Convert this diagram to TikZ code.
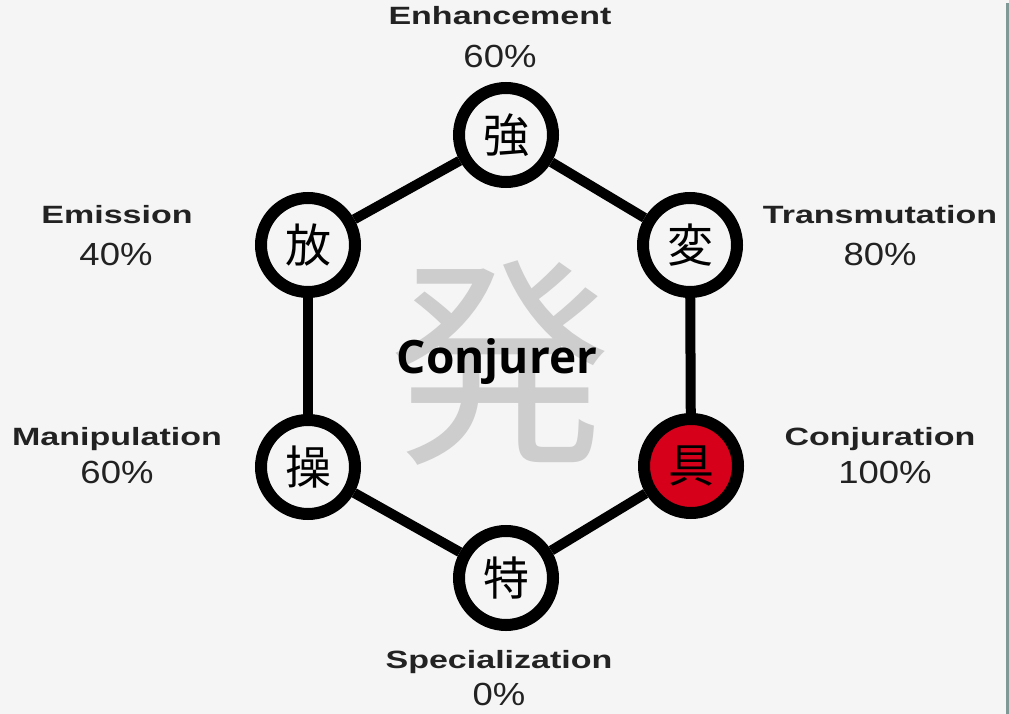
\documentclass[tikz,border=0pt]{standalone}
\usepackage{fontspec}
\setmainfont{Liberation Sans}
\newfontfamily\cjk{Noto Sans CJK JP}
\newfontfamily\conjfont{Open Sans}
\definecolor{bgc}{HTML}{F5F5F5}
\definecolor{redc}{HTML}{D7001A}
\definecolor{ghost}{HTML}{CDCDCD}
\definecolor{edgec}{HTML}{7F9A96}
\definecolor{txt}{HTML}{222222}
\newcommand{\ttl}[1]{\scalebox{1.36}[1]{\fontsize{25}{25}\selectfont\bfseries #1}}
\newcommand{\pct}[1]{\scalebox{1.14}[1]{\fontsize{32}{32}\selectfont #1}}
\begin{document}
\begin{tikzpicture}[x=1pt,y=-1pt,
  ring/.style={circle, draw=black, line width=12pt, fill=bgc, minimum size=94pt, inner sep=0pt, font=\cjk\fontsize{46}{46}\selectfont},
  link/.style={line width=10pt, black},
  lbl/.style={anchor=base, inner sep=0pt, text=txt}]
\useasboundingbox (0,0) rectangle (1009,714);
\fill[bgc] (0,0) rectangle (1009,714);
\coordinate (e1) at (1007.5,3);
\coordinate (e2) at (1007.5,714);
\draw[edgec, line width=3pt] (e1) -- (e2);

\node[anchor=base, inner sep=0pt, text=ghost, font=\cjk\fontsize{222}{222}\selectfont] (ghost) at (500,446) {発};
\node[anchor=base, inner sep=0pt, font=\conjfont\bfseries\fontsize{46}{46}\selectfont] (conj) at (497,373) {Conjurer};

\node[ring] (enh) at (506,135) {強};
\node[ring] (tra) at (690,245) {変};
\node[ring, fill=redc] (cnj) at (691,466) {具};
\node[ring] (spe) at (506,578) {特};
\node[ring] (man) at (308,467) {操};
\node[ring] (emi) at (308,245) {放};

\draw[link] (enh) -- (tra);
\draw[link] (tra) -- (cnj);
\draw[link] (cnj) -- (spe);
\draw[link] (spe) -- (man);
\draw[link] (man) -- (emi);
\draw[link] (emi) -- (enh);

\node[lbl] (t1) at (500,25) {\ttl{Enhancement}};
\node[lbl] (p1) at (500,68) {\pct{60\%}};
\node[lbl] (t2) at (117,223) {\ttl{Emission}};
\node[lbl] (p2) at (116,265) {\pct{40\%}};
\node[lbl] (t3) at (880,223) {\ttl{Transmutation}};
\node[lbl] (p3) at (880,265) {\pct{80\%}};
\node[lbl] (t4) at (117,445) {\ttl{Manipulation}};
\node[lbl] (p4) at (117,483) {\pct{60\%}};
\node[lbl] (t5) at (880,445) {\ttl{Conjuration}};
\node[lbl] (p5) at (885,483) {\pct{100\%}};
\node[lbl] (t6) at (499,668) {\ttl{Specialization}};
\node[lbl] (p6) at (499,705) {\pct{0\%}};
\end{tikzpicture}
\end{document}
